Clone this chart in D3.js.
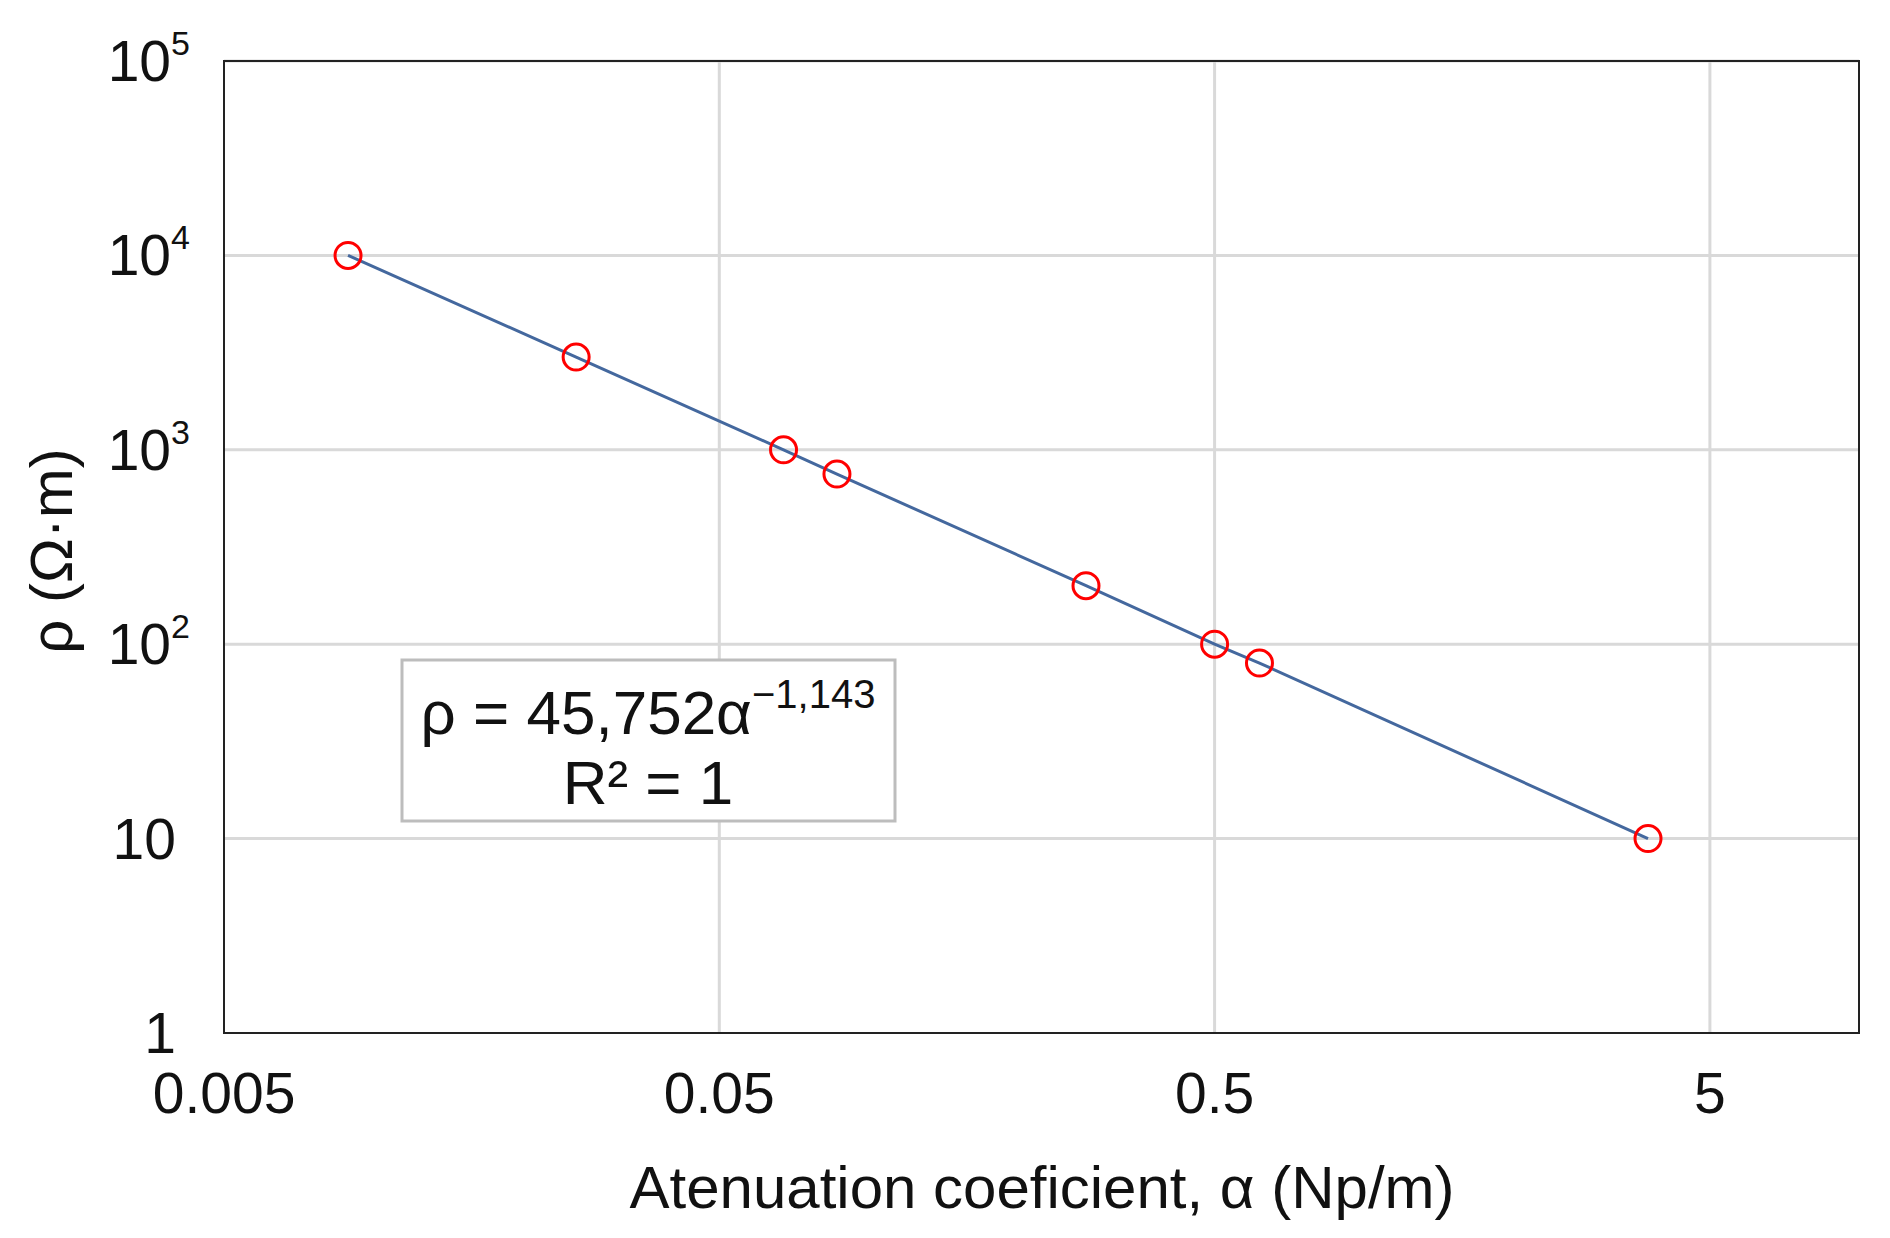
<!DOCTYPE html>
<html><head><meta charset="utf-8">
<script src="https://cdn.jsdelivr.net/npm/d3@7"></script>
<style>body{margin:0;background:#fff}text{font-family:"Liberation Sans",Arial,sans-serif;fill:#111}</style>
</head><body><svg id="chart" width="1890" height="1238"></svg>
<script>
let alpha = [0.0089, 0.0257, 0.0674, 0.0864, 0.275, 0.5, 0.616, 3.75];
let rho = [10000, 3000, 1000, 750, 200, 100, 80, 10];
let xTicks = [0.005, 0.05, 0.5, 5];
let yTicks = [1, 10, 100, 1000, 10000, 100000];
let yTickBase = ['1', '10', '10', '10', '10', '10'];
let yTickSup = ['', '', '2', '3', '4', '5'];

let m = {left: 224, top: 61, right: 31, bottom: 205};
let w = 1890 - m.left - m.right, h = 1238 - m.top - m.bottom;
let svg = d3.select('#chart');
let g = svg.append('g').attr('transform', `translate(${m.left},${m.top})`);

let x = d3.scaleLog().domain([0.005, 10]).range([0, w]);
let y = d3.scaleLog().domain([1, 100000]).range([h, 0]);

// grid
g.selectAll('.vg').data(xTicks.slice(1)).enter().append('line')
    .attr('x1', d => x(d)).attr('x2', d => x(d)).attr('y1', 0).attr('y2', h)
    .attr('stroke', '#d9d9d9').attr('stroke-width', 3);
g.selectAll('.hg').data(yTicks.slice(1)).enter().append('line')
    .attr('x1', 0).attr('x2', w).attr('y1', d => y(d)).attr('y2', d => y(d))
    .attr('stroke', '#d9d9d9').attr('stroke-width', 3);

g.append('rect').attr('width', w).attr('height', h)
    .attr('fill', 'none').attr('stroke', '#222').attr('stroke-width', 2);

// tick labels
g.selectAll('.xt').data(xTicks).enter().append('text')
    .attr('x', d => x(d)).attr('y', h + 80)
    .attr('text-anchor', 'middle').attr('font-size', 57)
    .text(d => d);
let yt = g.selectAll('.yt').data(yTicks).enter().append('text')
    .attr('x', (d, i) => yTickSup[i] ? -34 : -48).attr('y', d => y(d) + 20)
    .attr('text-anchor', 'end').attr('font-size', 57);
yt.append('tspan').text((d, i) => yTickBase[i]);
yt.append('tspan').attr('dy', -26).attr('font-size', 34).text((d, i) => yTickSup[i]);

// titles
svg.append('text').attr('x', 1042).attr('y', 1208)
    .attr('text-anchor', 'middle').attr('font-size', 60)
    .text('Atenuation coeficient, α (Np/m)');
svg.append('text').attr('transform', 'translate(72,551) rotate(-90)')
    .attr('text-anchor', 'middle').attr('font-size', 60)
    .text('ρ (Ω·m)');

// trend line
let pts = alpha.map((a, i) => [a, rho[i]]);
g.append('path').datum(pts)
    .attr('d', d3.line().x(d => x(d[0])).y(d => y(d[1])))
    .attr('fill', 'none').attr('stroke', '#44689e').attr('stroke-width', 3);

g.selectAll('.pt').data(pts).enter().append('circle')
    .attr('cx', d => x(d[0])).attr('cy', d => y(d[1])).attr('r', 13)
    .attr('fill', 'none').attr('stroke', '#ff0000').attr('stroke-width', 3);

// equation box
let bx = 402 - m.left, by = 660 - m.top;
g.append('rect').attr('x', bx).attr('y', by).attr('width', 493).attr('height', 161)
    .attr('fill', '#fff').attr('stroke', '#bdbdbd').attr('stroke-width', 3);
let eq = g.append('text').attr('x', bx + 246).attr('y', by + 74)
    .attr('text-anchor', 'middle').attr('font-size', 62);
eq.append('tspan').text('ρ = 45,752α');
eq.append('tspan').attr('dy', -26).attr('font-size', 40).text('−1,143');
g.append('text').attr('x', bx + 246).attr('y', by + 144)
    .attr('text-anchor', 'middle').attr('font-size', 62).text('R² = 1');
</script></body></html>
